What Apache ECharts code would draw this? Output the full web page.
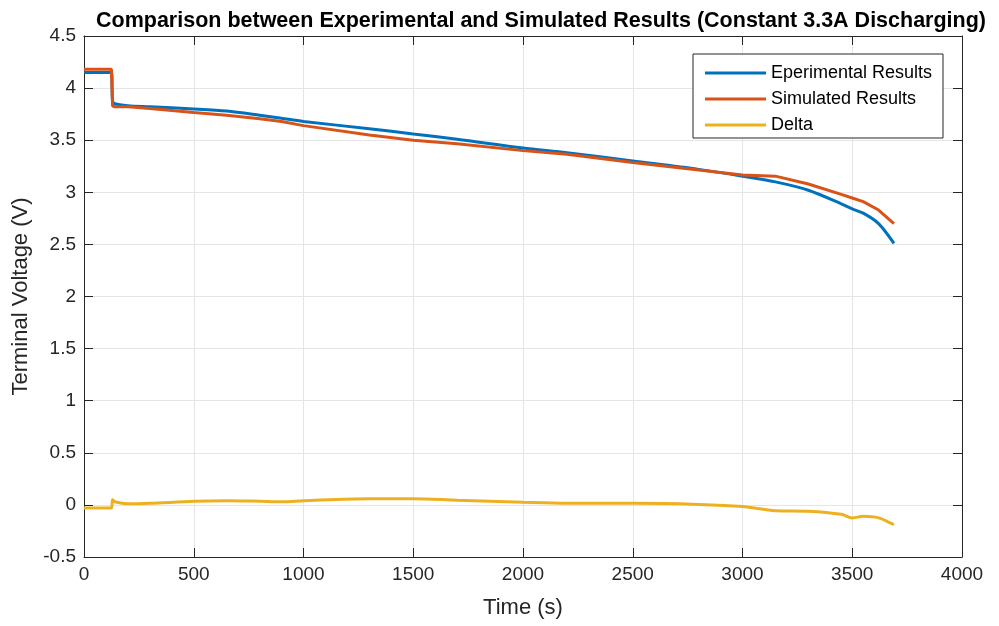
<!DOCTYPE html>
<html>
<head>
<meta charset="utf-8">
<script src="https://cdn.jsdelivr.net/npm/echarts@6/dist/echarts.min.js"></script>
<style>
  html, body { margin: 0; padding: 0; background: #fff; }
  #chart { width: 999px; height: 626px; }
</style>
</head>
<body>
<div id="chart"></div>
<script>
// 时间点 (s)
const times = [0, 125, 130, 140, 200, 300, 500, 650, 800, 900, 1000, 1300, 1500, 1700,
  2000, 2200, 2500, 2800, 3000, 3150, 3300, 3450, 3500, 3550, 3620, 3690];
const experimental = [4.15, 4.15, 3.88, 3.85, 3.83, 3.82, 3.80, 3.78, 3.74, 3.71, 3.68, 3.61,
  3.56, 3.51, 3.425, 3.38, 3.30, 3.22, 3.155, 3.10, 3.02, 2.89, 2.84, 2.80, 2.70, 2.51];
const simulated = [4.18, 4.18, 3.83, 3.82, 3.82, 3.805, 3.765, 3.74, 3.705, 3.68, 3.64, 3.55,
  3.50, 3.465, 3.40, 3.365, 3.285, 3.215, 3.165, 3.155, 3.08, 2.98, 2.945, 2.91, 2.83, 2.70];
const delta = [-0.03, -0.03, 0.05, 0.03, 0.01, 0.015, 0.035, 0.04, 0.035, 0.03, 0.04, 0.06,
  0.06, 0.045, 0.025, 0.015, 0.015, 0.005, -0.015, -0.055, -0.06, -0.09, -0.125, -0.11, -0.125, -0.19];
const seriesNames = ["Eperimental Results", "Simulated Results", "Delta"];
const colors = ["#0072BD", "#D95319", "#EDB120"];

const axisColor = "#262626";
const gridColor = "#e5e5e5";
const font = "Liberation Sans, Arial, sans-serif";

const myChart = echarts.init(document.getElementById("chart"), null, { renderer: "canvas" });

function pairs(ys) {
  return times.map((t, i) => [t, ys[i]]);
}

const tickStyle = { inside: true, length: 9, lineStyle: { color: axisColor } };

const option = {
  animation: false,
  backgroundColor: "#fff",
  color: colors,
  title: {
    text: "Comparison between Experimental and Simulated Results (Constant 3.3A Discharging)",
    left: 536,
    textAlign: "center",
    top: 5,
    textStyle: { fontFamily: font, fontSize: 21.5, fontWeight: "bold", color: "#000" },
  },
  legend: {
    data: seriesNames,
    orient: "vertical",
    left: 693,
    top: 54,
    padding: [10, 8, 4, 12],
    itemGap: 8,
    itemWidth: 61,
    itemHeight: 3,
    backgroundColor: "#fff",
    borderColor: axisColor,
    borderWidth: 1,
    borderRadius: 0,
    icon: "rect",
    textStyle: { fontFamily: font, fontSize: 18, lineHeight: 18, color: "#000", width: 164 },
  },
  grid: { left: 84, right: 37, top: 36, bottom: 69 },
  xAxis: [
    {
      type: "value",
      min: 0,
      max: 4000,
      interval: 500,
      name: "Time (s)",
      nameLocation: "middle",
      nameGap: 40,
      nameTextStyle: { fontFamily: font, fontSize: 22, color: axisColor },
      axisLine: { onZero: false, lineStyle: { color: axisColor } },
      axisTick: tickStyle,
      axisLabel: { fontFamily: font, fontSize: 19, color: axisColor, margin: 8, formatter: (v) => String(v) },
      splitLine: { show: true, lineStyle: { color: gridColor } },
    },
    {
      type: "value",
      position: "top",
      min: 0,
      max: 4000,
      interval: 500,
      axisLine: { onZero: false, lineStyle: { color: axisColor } },
      axisTick: tickStyle,
      axisLabel: { show: false },
      splitLine: { show: false },
    },
  ],
  yAxis: [
    {
      type: "value",
      min: -0.5,
      max: 4.5,
      interval: 0.5,
      name: "Terminal Voltage (V)",
      nameLocation: "middle",
      nameGap: 50,
      nameTextStyle: { fontFamily: font, fontSize: 22, color: axisColor },
      axisLine: { onZero: false, lineStyle: { color: axisColor } },
      axisTick: tickStyle,
      axisLabel: { fontFamily: font, fontSize: 19, color: axisColor, margin: 8, formatter: (v) => String(v) },
      splitLine: { show: true, lineStyle: { color: gridColor } },
    },
    {
      type: "value",
      position: "right",
      min: -0.5,
      max: 4.5,
      interval: 0.5,
      axisLine: { show: true, onZero: false, lineStyle: { color: axisColor } },
      axisTick: Object.assign({ show: true }, tickStyle),
      axisLabel: { show: false },
      splitLine: { show: false },
    },
  ],
  series: [
    { name: seriesNames[0], type: "line", data: pairs(experimental), smooth: 0.3, showSymbol: false, lineStyle: { width: 3 }, z: 3 },
    { name: seriesNames[1], type: "line", data: pairs(simulated), showSymbol: false, lineStyle: { width: 3 }, z: 4 },
    { name: seriesNames[2], type: "line", data: pairs(delta), smooth: 0.3, showSymbol: false, lineStyle: { width: 3 }, z: 5 },
  ],
};

myChart.setOption(option);
</script>
</body>
</html>
